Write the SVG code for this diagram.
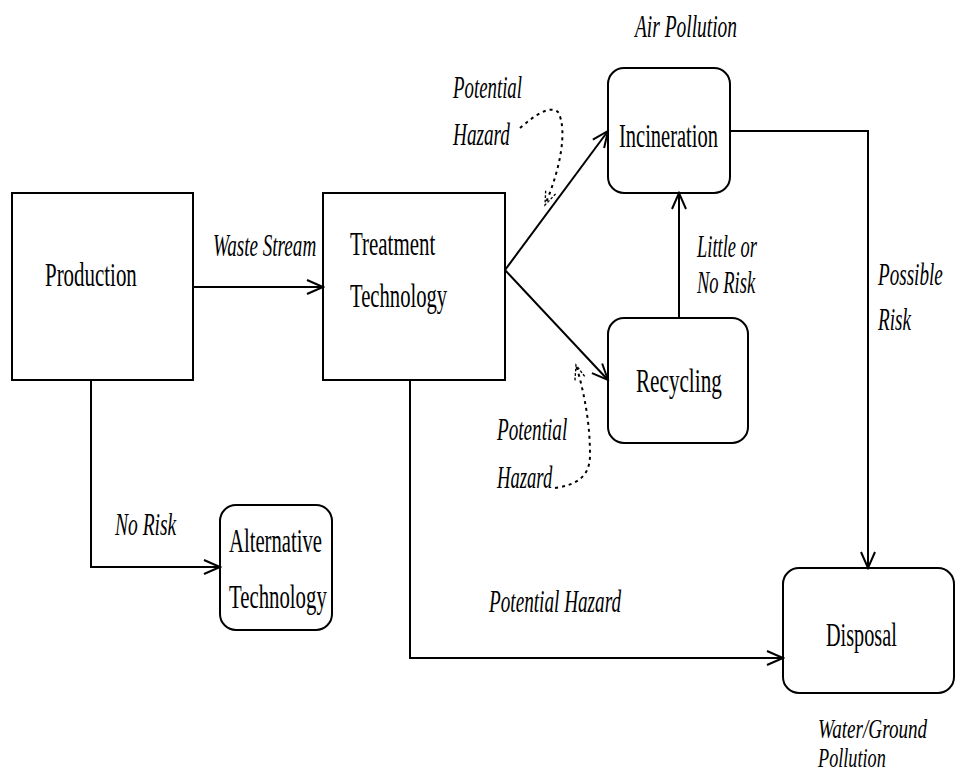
<svg xmlns="http://www.w3.org/2000/svg" width="955" height="774" viewBox="0 0 955 774">
<style>
.box{fill:none;stroke:#000;stroke-width:2}
.lbl{font-family:"Liberation Serif","Times New Roman",serif;font-size:33px;fill:#000}
.it{font-family:"Liberation Serif","Times New Roman",serif;font-size:31px;font-style:italic;fill:#000}
.sm{font-size:27px}
.ln{fill:none;stroke:#000;stroke-width:2}
.dot{fill:none;stroke:#000;stroke-width:2;stroke-dasharray:3,4}
</style>
<defs>
<marker id="ah" viewBox="0 0 20 20" refX="18" refY="10" markerWidth="20" markerHeight="20" markerUnits="userSpaceOnUse" orient="auto">
<path d="M2,3 L18,10 L2,17" fill="none" stroke="#000" stroke-width="2"/>
</marker>
<marker id="ahd" viewBox="0 0 20 20" refX="18" refY="10" markerWidth="18" markerHeight="18" markerUnits="userSpaceOnUse" orient="auto">
<path d="M2,4 L18,10 L2,16" fill="none" stroke="#000" stroke-width="1.5" stroke-dasharray="3,2"/>
</marker>
</defs>
<rect width="955" height="774" fill="#fff"/>
<g id="production">
<rect class="box" x="12" y="193" width="181" height="187"/>
<text class="lbl" transform="translate(45,286) scale(0.6,1)" textLength="153" lengthAdjust="spacingAndGlyphs">Production</text>
</g>
<g id="treatment">
<rect class="box" x="323" y="193" width="182" height="187"/>
<text class="lbl" transform="translate(350,255) scale(0.6,1)" textLength="142" lengthAdjust="spacingAndGlyphs">Treatment</text>
<text class="lbl" transform="translate(350,307) scale(0.6,1)" textLength="162" lengthAdjust="spacingAndGlyphs">Technology</text>
</g>
<g id="incineration">
<rect class="box" x="608" y="68" width="122" height="125" rx="16"/>
<text class="lbl" transform="translate(619,147) scale(0.6,1)" textLength="165" lengthAdjust="spacingAndGlyphs">Incineration</text>
</g>
<g id="recycling">
<rect class="box" x="608" y="318" width="140" height="125" rx="16"/>
<text class="lbl" transform="translate(636,392) scale(0.6,1)" textLength="143" lengthAdjust="spacingAndGlyphs">Recycling</text>
</g>
<g id="alternative">
<rect class="box" x="220" y="505" width="112" height="125" rx="16"/>
<text class="lbl" transform="translate(229,552) scale(0.6,1)" textLength="155" lengthAdjust="spacingAndGlyphs">Alternative</text>
<text class="lbl" transform="translate(229,608) scale(0.6,1)" textLength="163" lengthAdjust="spacingAndGlyphs">Technology</text>
</g>
<g id="disposal">
<rect class="box" x="783" y="568" width="171" height="125" rx="16"/>
<text class="lbl" transform="translate(826,646) scale(0.6,1)" textLength="118" lengthAdjust="spacingAndGlyphs">Disposal</text>
</g>
<g id="connectors">
<line class="ln" x1="193" y1="287" x2="323" y2="287" marker-end="url(#ah)"/>
<line class="ln" x1="505" y1="270" x2="608" y2="131" marker-end="url(#ah)"/>
<line class="ln" x1="505" y1="270" x2="608" y2="380" marker-end="url(#ah)"/>
<line class="ln" x1="679" y1="318" x2="679" y2="193" marker-end="url(#ah)"/>
<polyline class="ln" points="730,131 868,131 868,568" marker-end="url(#ah)"/>
<polyline class="ln" points="410,380 410,658 783,658" marker-end="url(#ah)"/>
<polyline class="ln" points="91,380 91,567 220,567" marker-end="url(#ah)"/>
<path class="dot" d="M520,128 C535,115 550,105 558,112 C568,130 560,170 545,205" marker-end="url(#ahd)"/>
<path class="dot" d="M555,488 C575,485 590,478 590,455 C590,425 585,395 576,365" marker-end="url(#ahd)"/>
</g>
<g id="labels">
<text class="it" transform="translate(213,256) scale(0.6,1)" textLength="172" lengthAdjust="spacingAndGlyphs">Waste Stream</text>
<text class="it" transform="translate(635,37) scale(0.6,1)" textLength="170" lengthAdjust="spacingAndGlyphs">Air Pollution</text>
<text class="it" transform="translate(453,98) scale(0.6,1)" textLength="115" lengthAdjust="spacingAndGlyphs">Potential</text>
<text class="it" transform="translate(453,145) scale(0.6,1)" textLength="95" lengthAdjust="spacingAndGlyphs">Hazard</text>
<text class="it" transform="translate(697,257) scale(0.6,1)" textLength="100" lengthAdjust="spacingAndGlyphs">Little or</text>
<text class="it" transform="translate(697,293) scale(0.6,1)" textLength="97" lengthAdjust="spacingAndGlyphs">No Risk</text>
<text class="it" transform="translate(878,285) scale(0.6,1)" textLength="108" lengthAdjust="spacingAndGlyphs">Possible</text>
<text class="it" transform="translate(878,330) scale(0.6,1)" textLength="55" lengthAdjust="spacingAndGlyphs">Risk</text>
<text class="it" transform="translate(497,440) scale(0.6,1)" textLength="117" lengthAdjust="spacingAndGlyphs">Potential</text>
<text class="it" transform="translate(497,488) scale(0.6,1)" textLength="92" lengthAdjust="spacingAndGlyphs">Hazard</text>
<text class="it" transform="translate(115,535) scale(0.6,1)" textLength="102" lengthAdjust="spacingAndGlyphs">No Risk</text>
<text class="it" transform="translate(489,612) scale(0.6,1)" textLength="220" lengthAdjust="spacingAndGlyphs">Potential Hazard</text>
<text class="it sm" transform="translate(818,738) scale(0.6,1)" textLength="182" lengthAdjust="spacingAndGlyphs">Water/Ground</text>
<text class="it sm" transform="translate(818,767) scale(0.6,1)" textLength="113" lengthAdjust="spacingAndGlyphs">Pollution</text>
</g>
</svg>
